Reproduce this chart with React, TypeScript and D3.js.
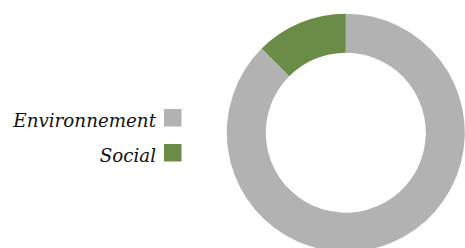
import React from "react";
import * as d3 from "d3";

const categories = ["Environnement", "Social"];
const values = [87.5, 12.5];
const colors = ["#b2b2b2", "#6a8c46"];

export default function App() {
  const width = 465;
  const height = 248;
  const cx = 345.8;
  const cy = 132.7;
  const outerR = 119;
  const innerR = 80;

  const pie = d3.pie<number>().sort(null).value((d) => d)(values);
  const arc = d3.arc<d3.PieArcDatum<number>>().innerRadius(innerR).outerRadius(outerR);

  return (
    <svg
      width={width}
      height={height}
      style={{ position: "absolute", left: 0, top: 0, display: "block" }}
    >
      <g transform={`translate(${cx},${cy})`}>
        {pie.map((p, i) => (
          <path key={categories[i]} d={arc(p) || ""} fill={colors[i]} />
        ))}
      </g>
      {categories.map((c, i) => (
        <g key={c}>
          <text
            x={156}
            y={127 + i * 35}
            textAnchor="end"
            style={{ fontFamily: "'DejaVu Serif', serif", fontStyle: "italic", fontSize: "18.3px" }}
            fill="#111"
          >
            {c}
          </text>
          <rect x={164} y={109 + i * 35} width={17.5} height={17.5} fill={colors[i]} />
        </g>
      ))}
    </svg>
  );
}
